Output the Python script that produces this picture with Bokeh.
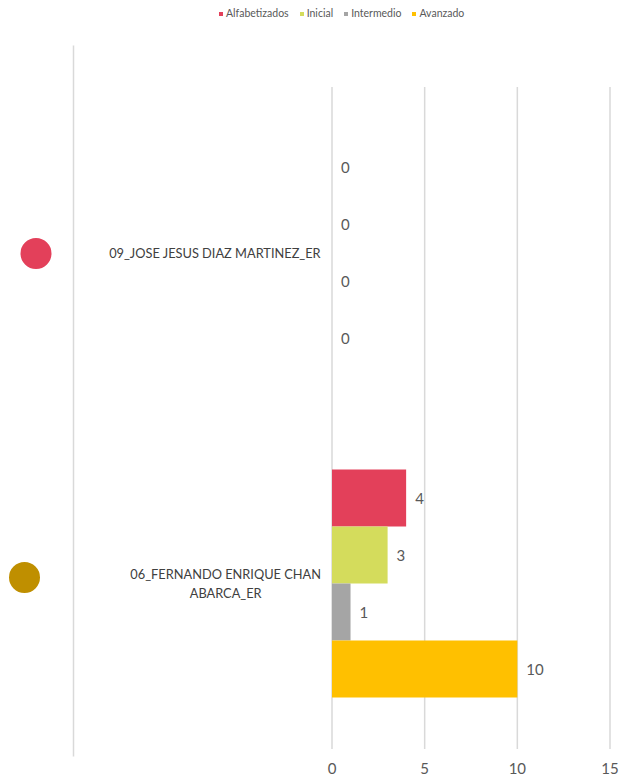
from bokeh.plotting import figure
from bokeh.models import Range1d, FixedTicker, ColumnDataSource, Legend, LegendItem
from bokeh.core.properties import value
from bokeh.transform import dodge
from bokeh.embed import file_html
from bokeh.resources import INLINE

# ---------------- data ----------------
categories = ["06_FERNANDO ENRIQUE CHAN\nABARCA_ER", "09_JOSE JESUS DIAZ MARTINEZ_ER"]  # bottom -> top
series = ["Alfabetizados", "Inicial", "Intermedio", "Avanzado"]
alfabetizados = [4, 0]
inicial = [3, 0]
intermedio = [1, 0]
avanzado = [10, 0]
x_ticks = [0, 5, 10, 15]
series_colors = ["#E3405A", "#D4DC5C", "#A5A5A5", "#FFC000"]
marker_colors = ["#BF8F00", "#E3405A"]

# ---------------- layout ----------------
W, H = 621, 778
BOTTOM = 22
FH = H - BOTTOM
PX_PER_X = 278 / 15.0
ZERO_PX = 331.5            # canvas x of value 0
x_start = -ZERO_PX / PX_PER_X
x_end = (W - ZERO_PX) / PX_PER_X
PX_PER_CAT = 331.0
CAT0_PX = 583.0            # canvas y of first category centre
y_top = CAT0_PX / PX_PER_CAT
y_bot = -(FH - CAT0_PX) / PX_PER_CAT

def px_to_x(px):
    return x_start + px / PX_PER_X

def py_to_y(py):
    return (CAT0_PX - py) / PX_PER_CAT

bar_h = 57 / PX_PER_CAT
offsets = [1.5 * bar_h, 0.5 * bar_h, -0.5 * bar_h, -1.5 * bar_h]

pos = list(range(len(categories)))
values = [alfabetizados, inicial, intermedio, avanzado]
data = dict(pos=pos, label=categories)
for s, v in zip(series, values):
    data[s] = v
    data[s + "_txt"] = [str(x) for x in v]
src = ColumnDataSource(data)

p = figure(width=W, height=H, output_backend="svg", toolbar_location=None,
           x_range=Range1d(x_start, x_end), y_range=Range1d(y_bot, y_top),
           y_axis_location=None, min_border_left=0, min_border_right=0,
           min_border_top=0, min_border_bottom=BOTTOM)
p.outline_line_color = None
p.xgrid.visible = False
p.ygrid.visible = False

FONT = "Lato"
GRID = "#D9D9D9"

# gridlines limited to the category bands
p.segment(x0=x_ticks, x1=x_ticks, y0=[-0.5] * len(x_ticks),
          y1=[len(categories) - 0.5] * len(x_ticks), line_color=GRID, line_width=1.5)

# decorative left separator line
p.segment(x0=[px_to_x(73)], x1=[px_to_x(73)], y0=[py_to_y(45)], y1=[py_to_y(760)],
          line_color=GRID, line_width=1.5)

items = []
for s, c, off in zip(series, series_colors, offsets):
    r = p.hbar(y=dodge("pos", off), left=0, right=s, height=bar_h, source=src,
               fill_color=c, line_color=None)
    items.append(LegendItem(label=s, renderers=[r]))
    p.text(x=s, y=dodge("pos", off), text=s + "_txt", source=src, x_offset=9,
           text_baseline="middle", text_align="left", text_font=value(FONT),
           text_font_size="15px", text_color="#595959")

# category labels
p.text(x=0, y="pos", text="label", source=src, x_offset=-11,
       anchor=value("center_right"), text_align="center", text_baseline="middle",
       text_font=value(FONT), text_font_size="12.8px", text_color="#404040",
       text_line_height=1.13)

# category markers (circles)
marker_px = [24, 35.5]
marker_py = [577, 253]
p.scatter(x=[px_to_x(v) for v in marker_px], y=[py_to_y(v) for v in marker_py],
          size=31, fill_color=marker_colors, line_color=None)

legend = Legend(items=items, orientation="horizontal", location=(218, FH - 19),
                glyph_width=5, glyph_height=5, label_standoff=3, spacing=10,
                padding=0, margin=0, border_line_color=None, background_fill_alpha=0,
                label_text_font=FONT, label_text_font_size="10.5px",
                label_text_color="#595959", label_height=10)
p.add_layout(legend)

ax = p.xaxis[0]
ax.ticker = FixedTicker(ticks=x_ticks)
ax.axis_line_color = None
ax.major_tick_line_color = None
ax.minor_tick_line_color = None
ax.major_tick_out = 0
ax.major_label_standoff = 6
ax.major_label_text_font = FONT
ax.major_label_text_font_size = "15px"
ax.major_label_text_color = "#595959"

open("out.html", "w").write(file_html(p, INLINE))
